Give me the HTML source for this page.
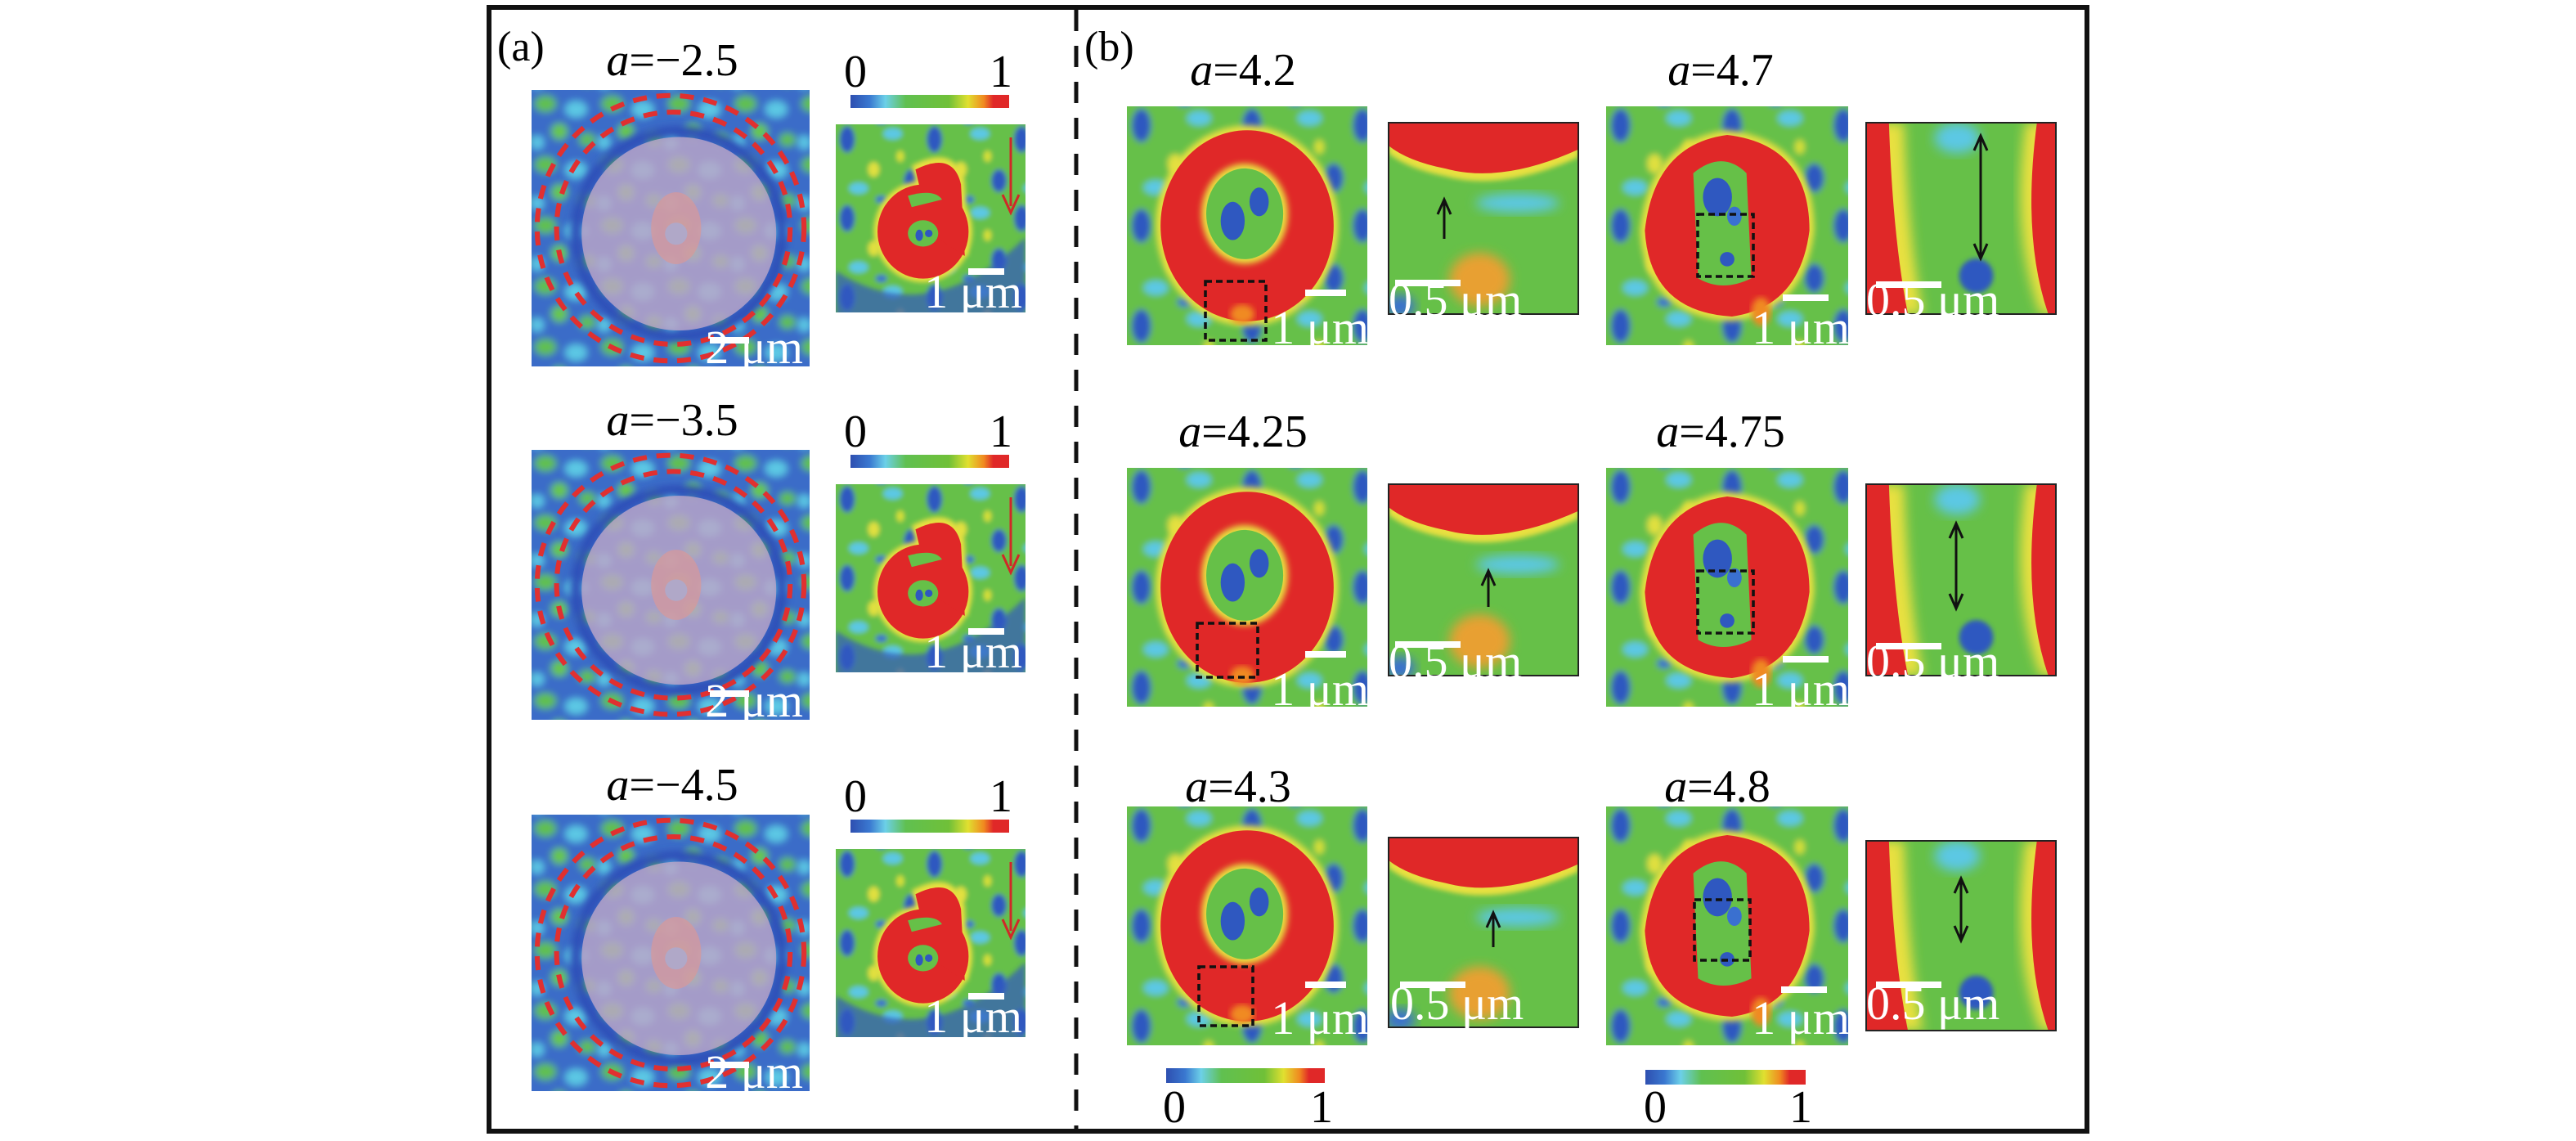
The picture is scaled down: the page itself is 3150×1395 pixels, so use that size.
<!DOCTYPE html>
<html><head><meta charset="utf-8"><style>
html,body{margin:0;padding:0;background:#fff;}
svg{display:block;}
text{font-family:"Liberation Serif",serif;}
</style></head><body>
<svg width="3150" height="1395" viewBox="0 0 1575 697.5" xmlns="http://www.w3.org/2000/svg">
<defs>
<linearGradient id="cb" x1="0" x2="1" y1="0" y2="0">
<stop offset="0" stop-color="#2e4fb0"/><stop offset=".12" stop-color="#3a78d0"/><stop offset=".22" stop-color="#6cd0e8"/><stop offset=".35" stop-color="#60c050"/><stop offset=".62" stop-color="#70c038"/><stop offset=".74" stop-color="#e0e030"/><stop offset=".84" stop-color="#f08a20"/><stop offset=".9" stop-color="#e02828"/><stop offset="1" stop-color="#e02828"/>
</linearGradient>
<filter id="bl" x="-10%" y="-10%" width="120%" height="120%"><feGaussianBlur stdDeviation="1.3"/></filter>
<filter id="bl2" x="-20%" y="-20%" width="140%" height="140%"><feGaussianBlur stdDeviation="3"/></filter>
<pattern id="spB" patternUnits="userSpaceOnUse" width="46" height="42">
<rect width="46" height="42" fill="#66c048"/>
<ellipse cx="6" cy="8" rx="4" ry="7" fill="#2f58c0"/><ellipse cx="30" cy="5" rx="5" ry="3" fill="#5cc8e4"/>
<ellipse cx="20" cy="24" rx="3" ry="4" fill="#e0e040"/><ellipse cx="40" cy="30" rx="4" ry="6" fill="#2f58c0"/>
<ellipse cx="12" cy="34" rx="5" ry="3" fill="#5cc8e4"/><ellipse cx="34" cy="17" rx="2" ry="3" fill="#d8e038"/>
<ellipse cx="24" cy="40" rx="3" ry="2" fill="#3a70d0"/>
</pattern>
<pattern id="spA" patternUnits="userSpaceOnUse" width="24" height="22">
<rect width="24" height="22" fill="#3a6cc8"/>
<ellipse cx="5" cy="5" rx="4" ry="3" fill="#60c050"/><ellipse cx="16" cy="7" rx="4" ry="3" fill="#5cc8e4"/>
<ellipse cx="10" cy="15" rx="3" ry="3" fill="#68c848"/><ellipse cx="20" cy="18" rx="3" ry="2.5" fill="#60c050"/>
<ellipse cx="2" cy="19" rx="2.5" ry="2.5" fill="#5cc8e4"/>
</pattern>
<symbol id="bigA" viewBox="0 0 100 100" preserveAspectRatio="none">
<rect x="-5" y="-5" width="110" height="110" fill="url(#spA)" filter="url(#bl)"/>
<ellipse cx="53" cy="52" rx="39" ry="39" fill="#2f50b8" filter="url(#bl)"/>
<ellipse cx="53" cy="52" rx="35" ry="35" fill="url(#spA)" filter="url(#bl)"/>
<ellipse cx="53" cy="52" rx="35" ry="35" fill="#bca6c8" opacity=".82"/>
<ellipse cx="52" cy="50" rx="9" ry="13" fill="#d89898" opacity=".7"/>
<ellipse cx="52" cy="52" rx="4" ry="4" fill="#b0a8c8"/>
<ellipse cx="50" cy="50" rx="48" ry="48" fill="none" stroke="#e03030" stroke-width="1.8" stroke-dasharray="5 3.5"/>
<ellipse cx="51" cy="50" rx="42" ry="42" fill="none" stroke="#e03030" stroke-width="1.8" stroke-dasharray="5 3.5"/>
</symbol>
<symbol id="smA" viewBox="0 0 100 100" preserveAspectRatio="none">
<rect x="-5" y="-5" width="110" height="110" fill="url(#spB)" filter="url(#bl)"/>
<path d="M0 78 Q50 110 100 60 L100 110 L0 110Z" fill="#3058c0" opacity=".7" filter="url(#bl)"/>
<g filter="url(#bl)">
<ellipse cx="46" cy="57" rx="26" ry="27" fill="#e8e040"/>
<path d="M40 22 Q62 10 68 30 L70 70 L50 60Z" fill="#e8e040"/>
</g>
<ellipse cx="46" cy="57" rx="24" ry="25" fill="#e02828"/>
<path d="M42 24 Q62 14 66 32 L68 70 L50 58Z" fill="#e02828"/>
<path d="M38 38 Q52 34 56 40 Q48 42 40 44Z" fill="#66c048"/>
<ellipse cx="46" cy="58" rx="8" ry="7" fill="#66c048"/>
<ellipse cx="44" cy="59" rx="2" ry="3" fill="#2f58c0"/><ellipse cx="49" cy="58" rx="2" ry="2" fill="#2f58c0"/>
</symbol>
<symbol id="bigB1" viewBox="0 0 100 100" preserveAspectRatio="none">
<rect x="-5" y="-5" width="110" height="110" fill="url(#spB)" filter="url(#bl)"/>
<ellipse cx="50" cy="50" rx="38" ry="42" fill="#e8e040" filter="url(#bl)"/>
<ellipse cx="50" cy="50" rx="36" ry="40" fill="#e02828"/>
<ellipse cx="49" cy="45" rx="18" ry="21" fill="#e8e040" filter="url(#bl)"/>
<ellipse cx="49" cy="45" rx="16" ry="19" fill="#66c048"/>
<ellipse cx="44" cy="48" rx="5" ry="8" fill="#2f58c0"/><ellipse cx="55" cy="40" rx="4" ry="6" fill="#2f58c0"/>
<ellipse cx="48" cy="87" rx="5" ry="4" fill="#f08a20" filter="url(#bl)"/>
</symbol>
<symbol id="bigB2" viewBox="0 0 100 100" preserveAspectRatio="none">
<rect x="-5" y="-5" width="110" height="110" fill="url(#spB)" filter="url(#bl)"/>
<path d="M50 10 Q86 14 86 52 Q82 86 52 90 Q16 88 14 52 Q18 14 50 10Z" fill="#e8e040" filter="url(#bl)"/>
<path d="M50 12 Q84 16 84 52 Q80 84 52 88 Q18 86 16 52 Q20 16 50 12Z" fill="#e02828"/>
<path d="M36 28 Q48 18 58 28 L60 72 Q48 78 38 72Z" fill="#66c048"/>
<ellipse cx="46" cy="38" rx="6" ry="8" fill="#2f58c0"/><ellipse cx="53" cy="46" rx="3" ry="4" fill="#3a70d0"/><ellipse cx="50" cy="64" rx="3" ry="3" fill="#2f58c0"/>
<ellipse cx="64" cy="86" rx="4" ry="6" fill="#f08a20" filter="url(#bl)"/>
</symbol>
<symbol id="zA" viewBox="0 0 100 100" preserveAspectRatio="none">
<rect width="100" height="100" fill="#66c048"/>
<path d="M0 0 H100 V18 Q60 36 30 28 Q10 24 0 16Z" fill="#e8e040" filter="url(#bl)"/>
<path d="M0 0 H100 V14 Q60 32 30 24 Q10 20 0 12Z" fill="#e02828"/>
<ellipse cx="68" cy="42" rx="22" ry="5" fill="#5cc8e4" filter="url(#bl2)"/>
<ellipse cx="48" cy="82" rx="16" ry="14" fill="#e8a030" filter="url(#bl2)"/>
<ellipse cx="6" cy="96" rx="8" ry="6" fill="#3a70d0" filter="url(#bl2)"/>
</symbol>
<symbol id="zB" viewBox="0 0 100 100" preserveAspectRatio="none">
<rect width="100" height="100" fill="#66c048"/>
<path d="M0 0 H20 Q22 60 30 100 H0Z" fill="#e8e040" filter="url(#bl2)"/>
<path d="M0 0 H12 Q14 60 22 100 H0Z" fill="#e02828"/>
<path d="M100 0 H84 Q76 60 92 100 H100Z" fill="#e8e040" filter="url(#bl2)"/>
<path d="M100 0 H90 Q82 60 96 100 H100Z" fill="#e02828"/>
<ellipse cx="58" cy="80" rx="9" ry="9" fill="#2f58c0" filter="url(#bl)"/>
<ellipse cx="48" cy="8" rx="12" ry="8" fill="#5cc8e4" filter="url(#bl2)"/>
</symbol>
</defs>

<rect x="299" y="4.5" width="977" height="687" fill="none" stroke="#111" stroke-width="3"/>
<line x1="658" y1="6" x2="658" y2="690" stroke="#111" stroke-width="2.5" stroke-dasharray="13 9"/>
<text x="304" y="37" font-size="26">(a)</text>
<text x="663" y="37" font-size="26">(b)</text>

<g>
<text x="411" y="46" font-size="28" text-anchor="middle"><tspan font-style="italic">a</tspan>=−2.5</text>
<use href="#bigA" x="325" y="55" width="170" height="169"/>
<rect x="434" y="206" width="24" height="4" fill="#fff"/>
<text x="491" y="222" font-size="29" fill="#fff" text-anchor="end">2 μm</text>
<text x="523" y="53" font-size="28" text-anchor="middle">0</text>
<text x="612" y="53" font-size="28" text-anchor="middle">1</text>
<rect x="520" y="58" width="97" height="8" fill="url(#cb)"/>
<use href="#smA" x="511" y="76" width="116" height="115"/>
<line x1="618" y1="84" x2="618" y2="126" stroke="#d02828" stroke-width="1.5"/>
<path d="M613 119 L618 130 L623 119" fill="none" stroke="#d02828" stroke-width="1.5"/>
<rect x="592" y="164" width="22" height="4" fill="#fff"/>
<text x="625" y="188" font-size="29" fill="#fff" text-anchor="end">1 μm</text>
</g>
<g transform="translate(0,220)">
<text x="411" y="46" font-size="28" text-anchor="middle"><tspan font-style="italic">a</tspan>=−3.5</text>
<use href="#bigA" x="325" y="55" width="170" height="165"/>
<rect x="434" y="202" width="24" height="4" fill="#fff"/>
<text x="491" y="218" font-size="29" fill="#fff" text-anchor="end">2 μm</text>
<text x="523" y="53" font-size="28" text-anchor="middle">0</text>
<text x="612" y="53" font-size="28" text-anchor="middle">1</text>
<rect x="520" y="58" width="97" height="8" fill="url(#cb)"/>
<use href="#smA" x="511" y="76" width="116" height="115"/>
<line x1="618" y1="84" x2="618" y2="126" stroke="#d02828" stroke-width="1.5"/>
<path d="M613 119 L618 130 L623 119" fill="none" stroke="#d02828" stroke-width="1.5"/>
<rect x="592" y="164" width="22" height="4" fill="#fff"/>
<text x="625" y="188" font-size="29" fill="#fff" text-anchor="end">1 μm</text>
</g>
<g transform="translate(0,443)">
<text x="411" y="46" font-size="28" text-anchor="middle"><tspan font-style="italic">a</tspan>=−4.5</text>
<use href="#bigA" x="325" y="55" width="170" height="169"/>
<rect x="434" y="206" width="24" height="4" fill="#fff"/>
<text x="491" y="222" font-size="29" fill="#fff" text-anchor="end">2 μm</text>
<text x="523" y="53" font-size="28" text-anchor="middle">0</text>
<text x="612" y="53" font-size="28" text-anchor="middle">1</text>
<rect x="520" y="58" width="97" height="8" fill="url(#cb)"/>
<use href="#smA" x="511" y="76" width="116" height="115"/>
<line x1="618" y1="84" x2="618" y2="126" stroke="#d02828" stroke-width="1.5"/>
<path d="M613 119 L618 130 L623 119" fill="none" stroke="#d02828" stroke-width="1.5"/>
<rect x="592" y="164" width="22" height="4" fill="#fff"/>
<text x="625" y="188" font-size="29" fill="#fff" text-anchor="end">1 μm</text>
</g>

<g>
<text x="760" y="52" font-size="28" text-anchor="middle"><tspan font-style="italic">a</tspan>=4.2</text>
<use href="#bigB1" x="689" y="65" width="147" height="146"/>
<rect x="737" y="172" width="37" height="36" fill="none" stroke="#111" stroke-width="1.8" stroke-dasharray="4 2.5"/>
<rect x="798" y="177" width="25" height="4" fill="#fff"/>
<text x="837" y="210" font-size="29" fill="#fff" text-anchor="end">1 μm</text>
<use href="#zA" x="849" y="75" width="116" height="117"/>
<rect x="849" y="75" width="116" height="117" fill="none" stroke="#222" stroke-width="1"/>
<line x1="883" y1="146" x2="883" y2="124" stroke="#111" stroke-width="1.5"/>
<path d="M879 131 L883 122 L887 131" fill="none" stroke="#111" stroke-width="1.5"/>
<rect x="853" y="171" width="40" height="4" fill="#fff"/>
<text x="849" y="193" font-size="29" fill="#fff">0.5 μm</text>
</g>
<g>
<text x="1052" y="52" font-size="28" text-anchor="middle"><tspan font-style="italic">a</tspan>=4.7</text>
<use href="#bigB2" x="982" y="65" width="148" height="146"/>
<rect x="1038" y="131" width="34" height="38" fill="none" stroke="#111" stroke-width="1.8" stroke-dasharray="4 2.5"/>
<rect x="1090" y="180" width="28" height="4" fill="#fff"/>
<text x="1131" y="210" font-size="29" fill="#fff" text-anchor="end">1 μm</text>
<use href="#zB" x="1141" y="75" width="116" height="117"/>
<rect x="1141" y="75" width="116" height="117" fill="none" stroke="#222" stroke-width="1"/>
<line x1="1211" y1="84" x2="1211" y2="157" stroke="#111" stroke-width="1.5"/>
<path d="M1207 92 L1211 83 L1215 92 M1207 149 L1211 158 L1215 149" fill="none" stroke="#111" stroke-width="1.5"/>
<rect x="1147" y="172" width="40" height="4" fill="#fff"/>
<text x="1141" y="193" font-size="29" fill="#fff">0.5 μm</text>
</g>

<g transform="translate(0,221)">
<text x="760" y="52" font-size="28" text-anchor="middle"><tspan font-style="italic">a</tspan>=4.25</text>
<use href="#bigB1" x="689" y="65" width="147" height="146"/>
<rect x="732" y="160" width="37" height="33" fill="none" stroke="#111" stroke-width="1.8" stroke-dasharray="4 2.5"/>
<rect x="798" y="177" width="25" height="4" fill="#fff"/>
<text x="837" y="210" font-size="29" fill="#fff" text-anchor="end">1 μm</text>
<use href="#zA" x="849" y="75" width="116" height="117"/>
<rect x="849" y="75" width="116" height="117" fill="none" stroke="#222" stroke-width="1"/>
<line x1="910" y1="150" x2="910" y2="130" stroke="#111" stroke-width="1.5"/>
<path d="M906 137 L910 128 L914 137" fill="none" stroke="#111" stroke-width="1.5"/>
<rect x="853" y="171" width="40" height="4" fill="#fff"/>
<text x="849" y="193" font-size="29" fill="#fff">0.5 μm</text>
</g>
<g transform="translate(0,221)">
<text x="1052" y="52" font-size="28" text-anchor="middle"><tspan font-style="italic">a</tspan>=4.75</text>
<use href="#bigB2" x="982" y="65" width="148" height="146"/>
<rect x="1038" y="128" width="34" height="38" fill="none" stroke="#111" stroke-width="1.8" stroke-dasharray="4 2.5"/>
<rect x="1090" y="180" width="28" height="4" fill="#fff"/>
<text x="1131" y="210" font-size="29" fill="#fff" text-anchor="end">1 μm</text>
<use href="#zB" x="1141" y="75" width="116" height="117"/>
<rect x="1141" y="75" width="116" height="117" fill="none" stroke="#222" stroke-width="1"/>
<line x1="1196" y1="100" x2="1196" y2="150" stroke="#111" stroke-width="1.5"/>
<path d="M1192 108 L1196 99 L1200 108 M1192 142 L1196 151 L1200 142" fill="none" stroke="#111" stroke-width="1.5"/>
<rect x="1147" y="172" width="40" height="4" fill="#fff"/>
<text x="1141" y="193" font-size="29" fill="#fff">0.5 μm</text>
</g>

<g transform="translate(0,428)">
<text x="757" y="62" font-size="28" text-anchor="middle"><tspan font-style="italic">a</tspan>=4.3</text>
<use href="#bigB1" x="689" y="65" width="147" height="146"/>
<rect x="733" y="163" width="33" height="36" fill="none" stroke="#111" stroke-width="1.8" stroke-dasharray="4 2.5"/>
<rect x="798" y="172" width="25" height="4" fill="#fff"/>
<text x="837" y="204" font-size="29" fill="#fff" text-anchor="end">1 μm</text>
<use href="#zA" x="849" y="84" width="116" height="116"/>
<rect x="849" y="84" width="116" height="116" fill="none" stroke="#222" stroke-width="1"/>
<line x1="913" y1="151" x2="913" y2="132" stroke="#111" stroke-width="1.5"/>
<path d="M909 139 L913 130 L917 139" fill="none" stroke="#111" stroke-width="1.5"/>
<rect x="856" y="172" width="40" height="4" fill="#fff"/>
<text x="850" y="195" font-size="29" fill="#fff">0.5 μm</text>
</g>
<g transform="translate(0,428)">
<text x="1050" y="62" font-size="28" text-anchor="middle"><tspan font-style="italic">a</tspan>=4.8</text>
<use href="#bigB2" x="982" y="65" width="148" height="146"/>
<rect x="1036" y="122" width="34" height="37" fill="none" stroke="#111" stroke-width="1.8" stroke-dasharray="4 2.5"/>
<rect x="1089" y="175" width="28" height="4" fill="#fff"/>
<text x="1131" y="204" font-size="29" fill="#fff" text-anchor="end">1 μm</text>
<use href="#zB" x="1141" y="86" width="116" height="116"/>
<rect x="1141" y="86" width="116" height="116" fill="none" stroke="#222" stroke-width="1"/>
<line x1="1199" y1="110" x2="1199" y2="146" stroke="#111" stroke-width="1.5"/>
<path d="M1195 118 L1199 109 L1203 118 M1195 138 L1199 147 L1203 138" fill="none" stroke="#111" stroke-width="1.5"/>
<rect x="1147" y="172" width="40" height="4" fill="#fff"/>
<text x="1141" y="195" font-size="29" fill="#fff">0.5 μm</text>
</g>

<rect x="713" y="653" width="97" height="9" fill="url(#cb)"/>
<text x="718" y="686" font-size="28" text-anchor="middle">0</text>
<text x="808" y="686" font-size="28" text-anchor="middle">1</text>
<rect x="1006" y="654" width="98" height="9" fill="url(#cb)"/>
<text x="1012" y="686" font-size="28" text-anchor="middle">0</text>
<text x="1101" y="686" font-size="28" text-anchor="middle">1</text>
</svg>
</body></html>
